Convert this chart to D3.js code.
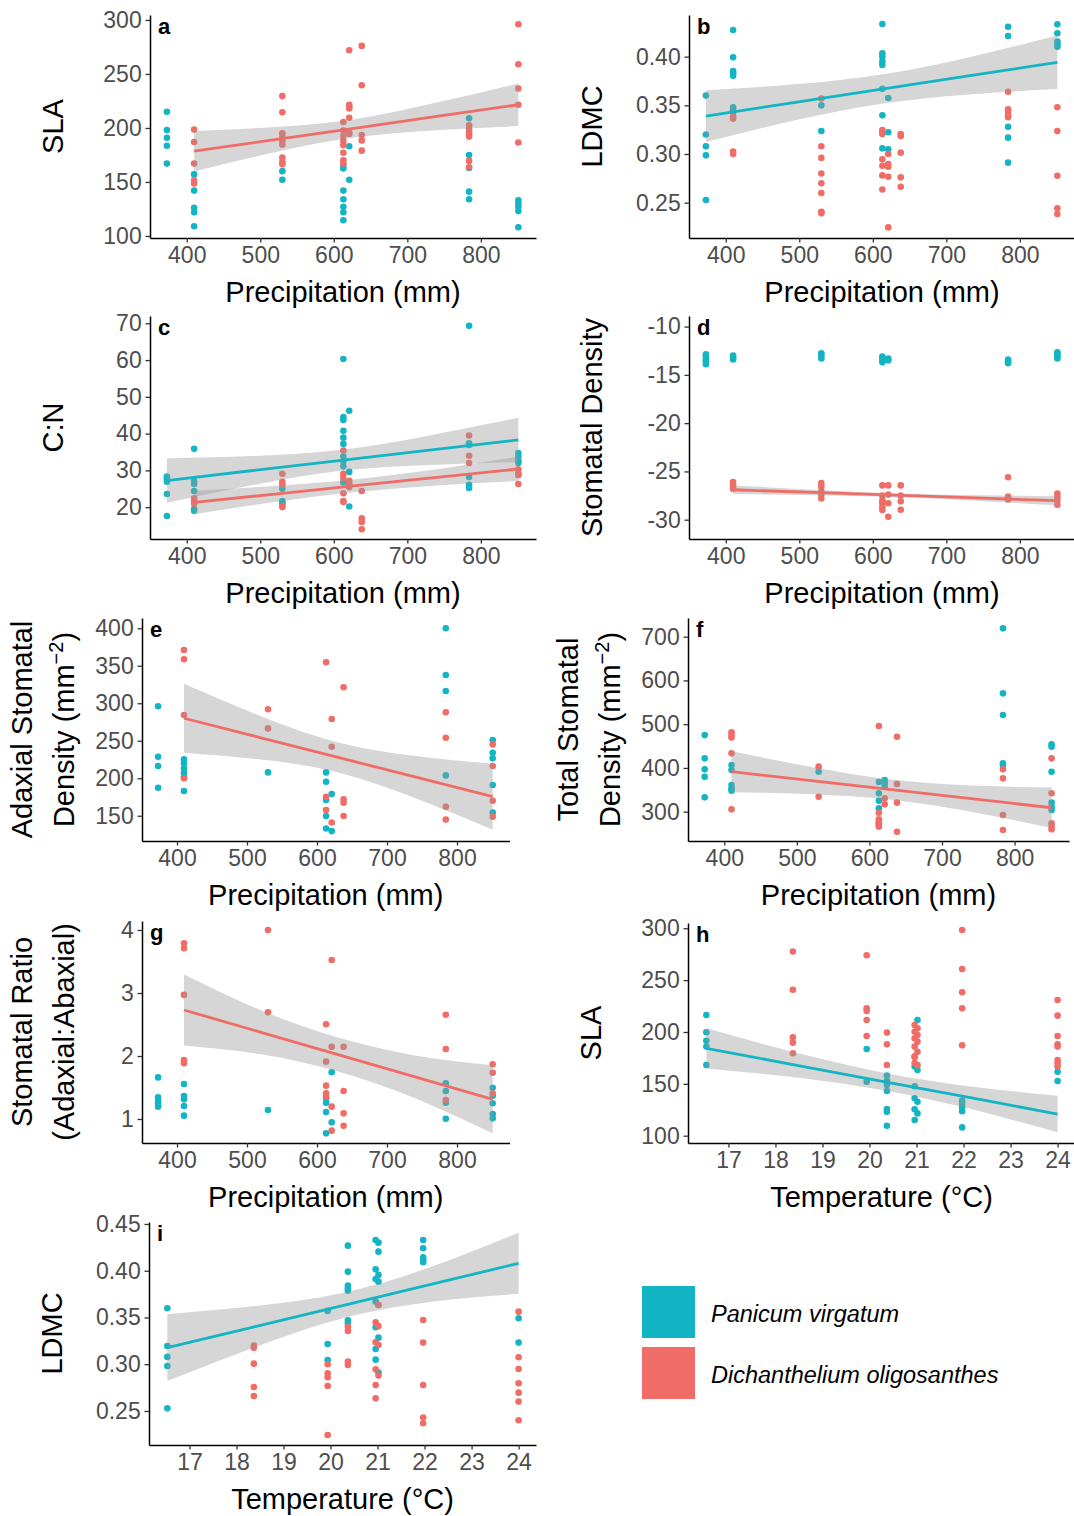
<!DOCTYPE html>
<html>
  <head>
    <title>Leaf traits vs climate</title>
    <style>
      body {
        margin: 0;
        background: #fff;
      }
      svg {
        display: block;
        font-family: 'Liberation Sans', Arial, Helvetica, sans-serif;
      }
    </style>
  </head>
  <body>
    <script src="https://cdn.jsdelivr.net/npm/d3@7"></script>
    <script>
      const teal = '#13B5C4';
      const red = '#EF6D66';

      // site values (mm and °C)
      const precipSites = [373, 410, 530, 613, 621, 638, 784, 851];
      const tempSites = [16.53, 18.37, 19.94, 20.37, 20.96, 21.02, 21.97, 24.0];
      const precipTicks = [400, 500, 600, 700, 800];
      const tempTicks = [17, 18, 19, 20, 21, 22, 23, 24];

      // observations, one list per site (same order as the site arrays)
      const slaPrecipTeal = [[215, 198, 191, 183.5, 167], [157, 142, 126, 122, 109], [160, 152], [165.5, 162.5, 142, 134, 127, 122, 114.5], [183, 152], [], [209, 175, 163, 141, 134], [133, 130, 127, 123, 108]];
      const slaPrecipRed = [[], [198.5, 187, 167, 151.5, 148.5], [229.5, 214.5, 195, 192, 188, 184.5, 172.5, 168.5, 166.5], [205.5, 197.5, 192.5, 188, 184, 177, 170, 167], [272, 221.5, 219.5, 218, 209.5, 195.5, 194.5], [276, 239.5, 193.5, 188.5, 179], [202.5, 199, 196.5, 194, 192, 169.5, 163.5], [296, 259, 236.5, 221.5, 186.5]];

      const ldmcPrecipTeal = [[0.36, 0.32, 0.308, 0.2986, 0.2527], [0.4274, 0.3993, 0.3853, 0.3829, 0.3805, 0.348, 0.345, 0.343], [0.35, 0.3236], [0.4336, 0.4034, 0.4, 0.395, 0.3914, 0.367, 0.3397, 0.3058], [0.3575, 0.3223, 0.3048], [], [0.4308, 0.4212, 0.328, 0.3168, 0.2911], [0.4332, 0.424, 0.4154, 0.4127, 0.4103]];
      const ldmcPrecipRed = [[], [0.3384, 0.3363, 0.3024, 0.3], [0.357, 0.308, 0.296, 0.28, 0.27, 0.26, 0.2407, 0.239], [0.3247, 0.322, 0.3205, 0.2945, 0.288, 0.278, 0.2636], [0.3, 0.2897, 0.287, 0.2767, 0.2246], [0.3205, 0.3185, 0.3014, 0.276, 0.2664], [0.364, 0.3459, 0.3435, 0.3397, 0.3377], [0.348, 0.3236, 0.2777, 0.2442, 0.2383]];

      const cnPrecipTeal = [[28.3, 27.7, 26.9, 23.6, 17.6], [35.9, 27.0, 26.3, 24.4, 19.5, 19.0], [25.0, 21.7, 21.1], [60.3, 44.5, 43.7, 40.8, 38.9, 37.2, 33.8, 32.4, 31.1, 26.7], [46.2, 29.6, 20.2], [], [69.3, 37.4, 36.9, 28.2, 26.1, 25.2], [34.7, 33.8, 32.7, 32.0]];
      const cnPrecipRed = [[], [22.4, 21.8, 20.9], [29.1, 26.9, 26.1, 20.4, 20.0], [35.4, 29.1, 27.9, 23.8, 21.7, 21.4], [27.2, 26.3, 25.4], [24.4, 17.0, 16.0, 14.0], [39.5, 34.0, 32.0], [30.3, 29.2, 28.7, 26.3]];

      const sdPrecipTeal = [[-12.86, -13.1, -13.4, -13.6, -13.9], [-13.0, -13.2, -13.4], [-12.76, -13.0, -13.3], [-13.1, -13.3, -13.5, -13.7], [-13.3, -13.5], [], [-13.4, -13.6, -13.8], [-12.66, -12.86, -13.1, -13.3]];
      const sdPrecipRed = [[], [-26.1, -26.45, -26.8], [-26.2, -26.55, -27.07, -27.4, -27.8], [-26.45, -27.5, -28.0, -28.3, -28.7, -29.0], [-26.45, -27.4, -28.3, -29.7], [-26.45, -27.5, -28.1, -28.97], [-25.6, -27.6, -27.9], [-27.3, -27.65, -28.0, -28.45]];

      const adaxPrecipTeal = [[296, 228.7, 216.3, 187.4], [225.2, 220, 213.2, 207.4, 202, 183], [207.8], [207.8, 195.4, 171, 149.6, 133], [179, 129.5], [], [400, 337.7, 316.4, 203.8], [251, 234, 226.5, 191, 154.4]];
      const adaxPrecipRed = [[], [371, 358.6, 284.3, 200], [292, 266.5], [354.6, 175.4, 157.6], [279, 242, 141], [321.3, 171.8, 167.3, 149.6], [288, 254, 162, 145], [245.2, 216.3, 170, 148.7]];

      const totalPrecipTeal = [[475, 421.9, 396.8, 380, 332.8], [406.7, 395, 360.9, 353.3, 348], [391.4], [367.8, 342, 325, 307.6, 274.9, 269.5], [372.4, 364.8, 357], [], [719, 570.5, 521, 410.5, 406.7], [453.9, 448.6, 391.4, 320.6, 311.4, 304]];
      const totalPrecipRed = [[], [481.3, 475, 469.7, 433.3, 305.3], [402.9, 334.3], [495.8, 297.7, 282.5, 273.3, 265.7], [330.5, 316.8], [471.4, 363.2, 320.6, 254.3], [396.8, 376.2, 292.4, 258.1], [421.9, 342, 273.3, 267.2, 259.6]];

      const ratioPrecipTeal = [[1.66, 1.344, 1.3, 1.25, 1.196], [1.556, 1.365, 1.312, 1.206, 1.053], [1.143], [1.328, 1.259, 1.111, 0.772], [1.741, 0.947], [], [1.566, 1.444, 1.259, 1.005], [1.497, 1.37, 1.25, 1.08, 1.01]];
      const ratioPrecipRed = [[], [3.79, 3.71, 2.97, 1.937, 1.884], [4.0, 2.693], [2.503, 1.91, 1.529, 1.407, 1.354], [3.524, 2.148, 1.196, 0.815], [2.148, 1.444, 1.09, 0.894], [2.656, 2.111, 1.3], [1.868, 1.735, 1.407]];

      const slaTempTeal = [[216.4, 199.7, 191.6, 185.9, 168.2], [], [183.6, 152.1], [157.9, 153, 148.9, 143.1, 125.7, 123.2, 109.6], [176.2, 166.6, 147.7, 136, 125.4, 115.1], [211.6, 163.3, 132.8, 121.5], [133.8, 130.5, 127.3, 123.5, 108], [161.7, 152.7]];
      const slaTempRed = [[], [277.5, 240.8, 194.9, 189.7, 179.4], [274, 222.8, 220.3, 211.6, 196.1], [199.4, 188.1, 168.2], [206.8, 200.3, 193.9, 185.9, 176.2, 170.4], [203.5, 197.1, 190.7, 181, 168], [298.4, 260.8, 238.3, 222.8, 187.1], [230.9, 215.8, 196.1, 188.1, 185.9, 173, 169.8, 166.6]];

      const ldmcTempTeal = [[0.3598, 0.3195, 0.3078, 0.2981, 0.2528], [], [0.357, 0.3217, 0.3045], [0.4268, 0.399, 0.384, 0.3812, 0.3787, 0.347, 0.3438], [0.4329, 0.4015, 0.3912, 0.3669, 0.3395, 0.3163, 0.3049], [0.43, 0.4204, 0.3955, 0.3883, 0.3634, 0.3284, 0.291], [0.4329, 0.424, 0.4143, 0.4115, 0.409], [0.3491, 0.3231]];
      const ldmcTempRed = [[], [0.3199, 0.3177, 0.3006, 0.2757, 0.266], [0.2999, 0.2903, 0.286, 0.2767, 0.2243], [0.3402, 0.3356, 0.3028, 0.2992], [0.3448, 0.3234, 0.2946, 0.2778, 0.2636], [0.3634, 0.3409, 0.3206, 0.2878], [0.3473, 0.3231, 0.2778, 0.2429, 0.2368], [0.3562, 0.3074, 0.2949, 0.2796, 0.2696, 0.26, 0.24]];

      // lm fits: [x, lower CI, fit, upper CI]
      const fitA = [[410, 159.75, 178.5, 197.25], [520, 177.6, 189.2, 200.8], [630, 191.4, 199.9, 208.4], [740, 197.9, 210.7, 223.5], [851, 201.8, 221.5, 241.2]];
      const fitB = [[373, 0.3124, 0.339, 0.3656], [490, 0.3339, 0.3526, 0.3713], [610, 0.3514, 0.3664, 0.3814], [730, 0.3612, 0.3802, 0.3992], [851, 0.3667, 0.3942, 0.4217]];
      const fitCteal = [[373, 21.2, 27.25, 33.3], [490, 26.0, 29.97, 33.9], [610, 29.9, 32.74, 35.6], [730, 31.5, 35.5, 39.5], [851, 32.3, 38.3, 44.3]];
      const fitCred = [[410, 18.1, 21.3, 24.5], [520, 21.4, 23.57, 25.75], [630, 24.1, 25.84, 27.6], [740, 25.9, 28.1, 30.3], [851, 27.1, 30.4, 33.7]];
      const fitD = [[410, -27.35, -26.9, -26.45], [520, -27.46, -27.18, -26.9], [630, -27.64, -27.46, -27.28], [740, -28.03, -27.75, -27.47], [851, -28.5, -28.03, -27.56]];
      const fitE = [[410, 234, 280, 326], [520, 225, 253.9, 282.8], [630, 207.8, 227.8, 247.8], [740, 173.7, 201.7, 229.7], [851, 131.4, 175.4, 219.4]];
      const fitF = [[410, 344.4, 391.4, 438.4], [520, 339.9, 370.9, 401.9], [630, 327.3, 350.3, 373.3], [740, 299.8, 329.8, 359.8], [851, 263, 309, 355]];
      const fitG = [[410, 2.165, 2.73, 3.295], [520, 2.026, 2.376, 2.726], [630, 1.753, 2.023, 2.293], [740, 1.329, 1.669, 2.009], [851, 0.772, 1.312, 1.852]];
      const fitH = [[16.53, 164.9, 184.2, 203.5], [18.4, 156.35, 168.35, 180.35], [20.3, 143.75, 152.25, 160.75], [22.2, 125.15, 136.15, 147.15], [24.0, 103.2, 120.9, 138.6]];
      const fitI = [[16.53, 0.282, 0.3177, 0.3534], [18.4, 0.3183, 0.3403, 0.3623], [20.3, 0.3497, 0.3632, 0.3767], [22.2, 0.3672, 0.3862, 0.4052], [24.0, 0.3753, 0.4079, 0.4405]];

      const species = ['Panicum virgatum', 'Dichanthelium oligosanthes'];

      const panels = [
        { letter: 'a', left: 150, right: 536, top: 15, bottom: 238, x: 'p', yDomain: [98.1, 304.6], yTicks: [100, 150, 200, 250, 300], dec: 0, yTitle: ['SLA'], teal: slaPrecipTeal, red: slaPrecipRed, fits: [[fitA, red]] },
        { letter: 'b', left: 689, right: 1075, top: 15, bottom: 238, x: 'p', yDomain: [0.2137, 0.4428], yTicks: [0.25, 0.3, 0.35, 0.4], dec: 2, yTitle: ['LDMC'], teal: ldmcPrecipTeal, red: ldmcPrecipRed, fits: [[fitB, teal]] },
        { letter: 'c', left: 150, right: 536, top: 316, bottom: 539, x: 'p', yDomain: [11.35, 71.98], yTicks: [20, 30, 40, 50, 60, 70], dec: 0, yTitle: ['C:N'], teal: cnPrecipTeal, red: cnPrecipRed, fits: [[fitCteal, teal], [fitCred, red]] },
        { letter: 'd', left: 689, right: 1075, top: 316, bottom: 539, x: 'p', yDomain: [-32.0, -8.9], yTicks: [-30, -25, -20, -15, -10], dec: 0, yTitle: ['Stomatal Density'], teal: sdPrecipTeal, red: sdPrecipRed, fits: [[fitD, red]] },
        { letter: 'e', left: 142, right: 509.5, top: 618, bottom: 841, x: 'p', yDomain: [116.3, 413.7], yTicks: [150, 200, 250, 300, 350, 400], dec: 0, yTitle: ['Adaxial Stomatal', 'Density (mm^{−2})'], teal: adaxPrecipTeal, red: adaxPrecipRed, fits: [[fitE, red]] },
        { letter: 'f', left: 688, right: 1069, top: 618, bottom: 841, x: 'p', yDomain: [233, 742.7], yTicks: [300, 400, 500, 600, 700], dec: 0, yTitle: ['Total Stomatal', 'Density (mm^{−2})'], teal: totalPrecipTeal, red: totalPrecipRed, fits: [[fitF, red]] },
        { letter: 'g', left: 142, right: 509.5, top: 921, bottom: 1143, x: 'p', yDomain: [0.619, 4.143], yTicks: [1, 2, 3, 4], dec: 0, yTitle: ['Stomatal Ratio', '(Adaxial:Abaxial)'], teal: ratioPrecipTeal, red: ratioPrecipRed, fits: [[fitG, red]] },
        { letter: 'h', left: 688, right: 1075, top: 923, bottom: 1143, x: 't', yDomain: [92.95, 305.1], yTicks: [100, 150, 200, 250, 300], dec: 0, yTitle: ['SLA'], teal: slaTempTeal, red: slaTempRed, fits: [[fitH, teal]] },
        { letter: 'i', left: 149, right: 536, top: 1222, bottom: 1445, x: 't', yDomain: [0.2136, 0.4521], yTicks: [0.25, 0.3, 0.35, 0.4, 0.45], dec: 2, yTitle: ['LDMC'], teal: ldmcTempTeal, red: ldmcTempRed, fits: [[fitI, teal]] }
      ];

      const svg = d3
        .select('body')
        .append('svg')
        .attr('width', 1074)
        .attr('height', 1516);

      function styleAxis(sel) {
        sel.attr('font-family', null).attr('font-size', 23);
        sel.select('.domain').attr('stroke', '#000').attr('stroke-width', 1.5);
        sel.selectAll('.tick line').attr('stroke', '#333').attr('stroke-width', 1.3);
        sel.selectAll('.tick text').attr('fill', '#4d4d4d');
      }

      function drawPanel(p) {
        const sites = p.x === 'p' ? precipSites : tempSites;
        const x = d3
          .scaleLinear()
          .domain(p.x === 'p' ? [350, 875] : [16.14, 24.37])
          .range([p.left, p.right]);
        const y = d3.scaleLinear().domain(p.yDomain).range([p.bottom, p.top]);
        const g = svg.append('g');

        // points first, smooth drawn over them like geom_smooth
        [[p.teal, teal], [p.red, red]].forEach(([bySite, color]) => {
          const pts = bySite.flatMap((vals, i) => vals.map((v) => [sites[i], v]));
          g.append('g')
            .selectAll('circle')
            .data(pts)
            .join('circle')
            .attr('cx', (d) => x(d[0]))
            .attr('cy', (d) => y(d[1]))
            .attr('r', 3.3)
            .attr('fill', color);
        });

        p.fits.forEach(([rows, color]) => {
          const band = d3
            .area()
            .x((d) => x(d[0]))
            .y0((d) => y(d[1]))
            .y1((d) => y(d[3]))
            .curve(d3.curveNatural);
          g.append('path')
            .datum(rows)
            .attr('d', band)
            .attr('fill', '#999')
            .attr('fill-opacity', 0.4);
          const line = d3
            .line()
            .x((d) => x(d[0]))
            .y((d) => y(d[2]));
          g.append('path')
            .datum(rows)
            .attr('d', line)
            .attr('fill', 'none')
            .attr('stroke', color)
            .attr('stroke-width', 2.8);
        });

        g.append('g')
          .attr('transform', `translate(0,${p.bottom})`)
          .call(
            d3
              .axisBottom(x)
              .tickValues(p.x === 'p' ? precipTicks : tempTicks)
              .tickSize(4.5)
              .tickSizeOuter(0)
              .tickPadding(4)
              .tickFormat((d) => String(d))
          )
          .call(styleAxis);

        g.append('g')
          .attr('transform', `translate(${p.left},0)`)
          .call(
            d3
              .axisLeft(y)
              .tickValues(p.yTicks)
              .tickSize(4.5)
              .tickSizeOuter(0)
              .tickPadding(3.8)
              .tickFormat((d) => d.toFixed(p.dec))
          )
          .call(styleAxis);

        // panel letter
        g.append('text')
          .attr('x', p.left + 8)
          .attr('y', p.top + 19)
          .attr('font-size', 22)
          .attr('font-weight', 'bold')
          .text(p.letter);

        // x title
        g.append('text')
          .attr('x', (p.left + p.right) / 2)
          .attr('y', p.bottom + 64)
          .attr('text-anchor', 'middle')
          .attr('font-size', 29)
          .text(p.x === 'p' ? 'Precipitation (mm)' : 'Temperature (°C)');

        // y title, one or two lines
        const cy = (p.top + p.bottom) / 2;
        const offsets = p.yTitle.length === 1 ? [87] : [110, 68];
        p.yTitle.forEach((ln, i) => {
          const t = g
            .append('text')
            .attr('transform', `translate(${p.left - offsets[i]},${cy}) rotate(-90)`)
            .attr('text-anchor', 'middle')
            .attr('font-size', 29);
          const parts = ln.split(/\^\{|\}/);
          parts.forEach((s, k) => {
            if (!s) return;
            const sp = t.append('tspan').text(s);
            if (k % 2 === 1) sp.attr('font-size', 20).attr('dy', -11);
            else if (k > 0) sp.attr('dy', 11);
          });
        });
      }

      panels.forEach(drawPanel);

      // legend
      const legend = svg.append('g');
      [teal, red].forEach((c, i) => {
        legend
          .append('rect')
          .attr('x', 642)
          .attr('y', 1286 + i * 61)
          .attr('width', 53)
          .attr('height', 52)
          .attr('fill', c);
        legend
          .append('text')
          .attr('x', 711)
          .attr('y', 1322 + i * 61)
          .attr('font-size', 23.5)
          .attr('font-style', 'italic')
          .text(species[i]);
      });
    </script>
  </body>
</html>
